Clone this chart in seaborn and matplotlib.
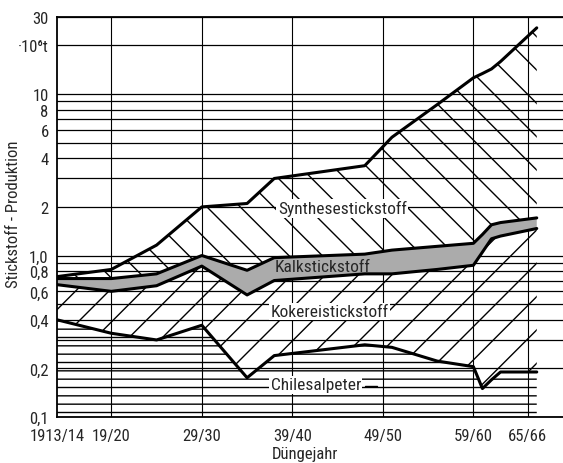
import pandas as pd
import matplotlib.pyplot as plt
import seaborn as sns
from matplotlib import font_manager

# values (cumulative totals, 10^6 t N)
years = [1913, 1919, 1924, 1929, 1934, 1937, 1947, 1950, 1955, 1959, 1960, 1961, 1962, 1966]
chile_top = [0.40, 0.33, 0.30, 0.37, 0.175, 0.24, 0.28, 0.27, 0.222, 0.205, 0.15, 0.17, 0.19, 0.19]
kokerei_top = [0.66, 0.60, 0.65, 0.86, 0.57, 0.70, 0.77, 0.77, 0.82, 0.87, 1.05, 1.27, 1.32, 1.47]
kalk_top = [0.72, 0.72, 0.77, 1.00, 0.81, 0.97, 1.02, 1.08, 1.14, 1.19, 1.35, 1.55, 1.60, 1.71]
total = [0.74, 0.82, 1.16, 2.0, 2.1, 3.0, 3.6, 5.4, 8.6, 12.6, 13.4, 14.3, 15.9, 25.7]

tick_years = [1913, 1919, 1929, 1939, 1949, 1959, 1965]
tick_year_labels = ['1913/14', '19/20', '29/30', '39/40', '49/50', '59/60', '65/66']
y_ticks = [0.1, 0.2, 0.4, 0.6, 0.8, 1.0, 2, 4, 6, 8, 10, 20, 30]
y_tick_labels = ['0,1', '0,2', '0,4', '0,6', '0,8', '1,0', '2', '4', '6', '8', '10', '·10⁶t', '30']
grid_values = [0.1, 0.2, 0.3, 0.4, 0.5, 0.6, 0.7, 0.8, 0.9,
               1, 2, 3, 4, 5, 6, 7, 8, 9, 10, 20, 30]

df = pd.DataFrame({'year': years, 'Chilesalpeter': chile_top,
                   'Kokereistickstoff': kokerei_top,
                   'Kalkstickstoff': kalk_top,
                   'Synthesestickstoff': total})
df_long = df.melt(id_vars='year', var_name='boundary', value_name='value')

sns.set_style('white')

# the original uses a narrow DIN-like face; take the narrowest one we have
fonts = font_manager.fontManager.ttflist
names = {f.name for f in fonts}
fs = 12.5
if 'Liberation Sans Narrow' in names:
    plt.rcParams['font.family'] = ['Liberation Sans Narrow', 'DejaVu Sans']
elif 'Roboto Condensed' in names:
    plt.rcParams['font.family'] = ['Roboto Condensed', 'DejaVu Sans']
elif any(f.name == 'DejaVu Sans' and f.stretch == 'condensed' for f in fonts):
    plt.rcParams['font.family'] = ['DejaVu Sans']
    plt.rcParams['font.stretch'] = 'condensed'
    fs = 11.5
else:
    plt.rcParams['font.family'] = ['Liberation Sans', 'DejaVu Sans']
    fs = 11
tfs = fs - 0.5
plt.rcParams['hatch.linewidth'] = 1.0

fig = plt.figure(figsize=(5.63, 4.64), dpi=100)
ax = fig.add_axes([57 / 563, 1 - 418 / 464, (563 - 57) / 563, 400 / 464])
ax.set_yscale('log')
ax.set_xlim(1913, 1968.9)
ax.set_ylim(0.1, 30)

# grid
for v in grid_values:
    ax.axhline(v, color='black', lw=0.9, zorder=1)
for yr in tick_years[1:]:
    ax.axvline(yr, color='black', lw=0.8, zorder=1)

# areas
ax.fill_between(df['year'], 0.1, df['Chilesalpeter'], facecolor='none',
                edgecolor='black', hatch='--', lw=0, zorder=2)
ax.fill_between(df['year'], df['Chilesalpeter'], df['Kokereistickstoff'],
                facecolor='none', edgecolor='black', hatch='/', lw=0, zorder=2)
ax.fill_between(df['year'], df['Kokereistickstoff'], df['Kalkstickstoff'],
                facecolor='#ababab', edgecolor='none', lw=0, zorder=2)
ax.fill_between(df['year'], df['Kalkstickstoff'], df['Synthesestickstoff'],
                facecolor='none', edgecolor='black', hatch='\\', lw=0, zorder=2)

sns.lineplot(data=df_long, x='year', y='value', units='boundary', estimator=None,
             color='black', lw=2.2, ax=ax, zorder=3)

# area labels
box = dict(facecolor='white', edgecolor='none', pad=1)
ax.text(1937.4, 1.96, 'Synthesestickstoff', fontsize=fs, va='center', bbox=box, zorder=4)
ax.text(1937.0, 0.855, 'Kalkstickstoff', fontsize=fs, va='center', zorder=4)
ax.text(1936.6, 0.45, 'Kokereistickstoff', fontsize=fs, va='center', bbox=box, zorder=4)
ax.text(1936.6, 0.158, 'Chilesalpeter', fontsize=fs, va='center', bbox=box, zorder=4)
ax.plot([1947.0, 1948.4], [0.156, 0.156], color='black', lw=1, zorder=4)

ax.set_xticks(tick_years)
ax.set_xticklabels(tick_year_labels, fontsize=tfs)
ax.set_yticks(y_ticks)
ax.set_yticklabels(y_tick_labels, fontsize=tfs)
ax.minorticks_off()
ax.tick_params(axis='x', length=0, pad=8)
ax.tick_params(axis='y', length=0, pad=6)

ax.set_xlabel('Düngejahr', fontsize=tfs)
ax.set_ylabel('Stickstoff - Produktion', fontsize=tfs)
ax.xaxis.set_label_coords(0.49, -0.092)
ax.yaxis.set_label_coords(-0.085, 0.51)
ax.xaxis.label.set_va('center')
ax.yaxis.label.set_va('center')

for side in ['left', 'bottom', 'top']:
    ax.spines[side].set_color('black')
    ax.spines[side].set_linewidth(1.3)
ax.spines['right'].set_visible(False)

fig.savefig('out.png', dpi=100)
